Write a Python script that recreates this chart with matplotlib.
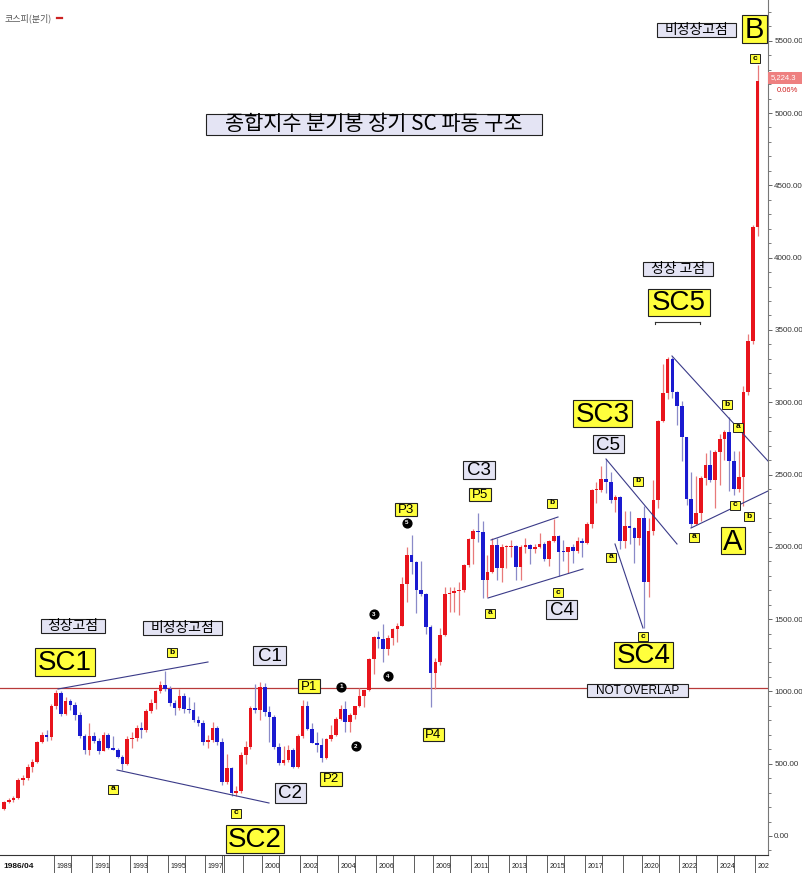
import matplotlib
matplotlib.use('Agg')
import matplotlib.pyplot as plt
from matplotlib.patches import Rectangle
import numpy as np

# ---------------- DATA (KOSPI quarterly, 1986Q2 .. 2026Q1) ----------------
start_year, start_q = 1986, 2
opens = [185, 237, 248, 262, 387, 400, 477, 512, 650, 700, 682, 900, 990, 845, 935, 905, 835, 692, 595, 692,
         660, 590, 700, 612, 598, 545, 500, 670, 680, 745, 730, 866, 920, 1000, 1044, 1020, 920, 885, 968, 875,
         868, 802, 779, 651, 664, 745, 647, 376, 470, 297, 310, 562, 618, 883, 870, 1028, 860, 821, 613, 504,
         523, 595, 479, 693, 900, 742, 646, 627, 536, 670, 697, 810, 880, 785, 835, 896, 966, 1008, 1221, 1379,
         1359, 1295, 1371, 1434, 1452, 1744, 1946, 1897, 1704, 1674, 1448, 1124, 1206, 1390, 1673, 1682, 1692, 1698, 1873, 2051,
         2106, 2100, 1770, 1826, 2014, 1854, 1996, 1997, 2005, 1863, 1997, 2011, 1985, 2002, 2020, 1916, 2041, 2074, 1963, 1961,
         1996, 1970, 2043, 2026, 2160, 2392, 2394, 2467, 2445, 2326, 2343, 2041, 2141, 2130, 2063, 2198, 1754, 2108, 2327, 2873,
         3061, 3296, 3068, 2977, 2757, 2332, 2155, 2236, 2477, 2564, 2465, 2655, 2747, 2797, 2593, 2399, 2481, 3072, 3425, 4214]
highs = [245, 262, 275, 400, 425, 495, 530, 660, 720, 730, 910, 1010, 1000, 960, 950, 930, 860, 705, 780, 720,
         680, 720, 710, 690, 610, 560, 690, 720, 770, 790, 880, 950, 1010, 1070, 1138, 1040, 940, 1016, 990, 960,
         930, 830, 800, 700, 790, 760, 680, 570, 480, 345, 580, 660, 900, 1052, 1066, 1059, 900, 840, 640, 620,
         630, 610, 705, 940, 937, 780, 720, 680, 680, 770, 820, 905, 936, 850, 900, 1022, 1010, 1230, 1380, 1420,
         1464, 1390, 1440, 1470, 1790, 2000, 2085, 1900, 1900, 1680, 1460, 1230, 1440, 1720, 1720, 1720, 1760, 1880, 2060, 2120,
         2231, 2180, 1940, 2060, 2060, 2020, 2010, 2050, 2010, 2010, 2060, 2020, 2020, 2093, 2030, 2050, 2190, 2080, 2050, 2000,
         2020, 2070, 2060, 2170, 2400, 2450, 2560, 2607, 2520, 2360, 2350, 2250, 2250, 2140, 2200, 2280, 2200, 2460, 2880, 3266,
         3316, 3316, 3080, 3010, 2760, 2520, 2490, 2490, 2650, 2670, 2670, 2780, 2810, 2896, 2660, 2660, 3110, 3470, 4226, 5330]
lows = [180, 228, 238, 255, 352, 385, 440, 505, 640, 660, 665, 880, 830, 840, 870, 800, 680, 566, 560, 640,
        570, 585, 600, 595, 540, 459, 490, 610, 660, 680, 720, 850, 880, 990, 1000, 900, 840, 870, 850, 850,
        790, 760, 630, 610, 650, 630, 350, 360, 280, 277, 300, 500, 600, 850, 800, 830, 650, 600, 490, 490,
        510, 468, 470, 680, 730, 640, 580, 512, 530, 660, 690, 800, 720, 720, 810, 890, 890, 1000, 1120, 1300,
        1200, 1250, 1320, 1345, 1450, 1620, 1810, 1540, 1660, 1400, 892, 1020, 1180, 1380, 1550, 1550, 1530, 1690, 1860, 1880,
        2030, 1644, 1650, 1820, 1770, 1760, 1850, 1930, 1770, 1770, 1960, 1880, 1960, 1990, 1900, 1870, 2030, 1800, 1900, 1817,
        1890, 1960, 1930, 2020, 2130, 2300, 2380, 2370, 2300, 2240, 1985, 1990, 2020, 1890, 2010, 1439, 1650, 2080, 2270, 2860,
        3020, 3030, 2840, 2590, 2290, 2134, 2150, 2180, 2430, 2450, 2270, 2430, 2600, 2386, 2360, 2380, 2284, 3050, 3400, 4150]
closes = [237, 248, 262, 387, 400, 477, 512, 650, 700, 682, 900, 990, 845, 935, 905, 835, 692, 595, 692, 660,
          590, 700, 612, 598, 545, 500, 670, 680, 745, 730, 866, 920, 1000, 1044, 1020, 920, 885, 968, 875, 868,
          802, 779, 651, 664, 745, 647, 376, 470, 297, 310, 562, 618, 883, 870, 1028, 860, 821, 613, 504, 523,
          595, 479, 693, 900, 742, 646, 627, 536, 670, 697, 810, 880, 785, 835, 896, 966, 1008, 1221, 1379, 1359,
          1295, 1371, 1434, 1452, 1744, 1946, 1897, 1704, 1674, 1448, 1124, 1206, 1390, 1673, 1682, 1692, 1698, 1873, 2051, 2106,
          2100, 1770, 1826, 2014, 1854, 1996, 1997, 2005, 1863, 1997, 2011, 1985, 2002, 2020, 1916, 2041, 2074, 1963, 1961, 1996,
          1970, 2043, 2026, 2160, 2392, 2394, 2467, 2445, 2326, 2343, 2041, 2141, 2130, 2063, 2198, 1754, 2108, 2327, 2873, 3061,
          3296, 3068, 2977, 2757, 2332, 2155, 2236, 2477, 2564, 2465, 2655, 2747, 2797, 2593, 2399, 2481, 3072, 3425, 4214, 5224.36]

tick_years = [1989, 1991, 1993, 1995, 1997, 2000, 2002, 2004, 2006, 2009, 2011, 2013, 2015, 2017, 2020, 2022, 2024, 2026]
tick_labels = ['1989', '1991', '1993', '1995', '1997', '2000', '2002', '2004', '2006', '2009', '2011', '2013', '2015',
               '2017', '2020', '2022', '2024', '202']
extra_tick_years = [1998, 1999, 2008, 2019]
first_label = '1986/04'
overlap_level = 1025
last_price_text = '5,224.3'
last_change_text = '0.06%'

# ---------------- LAYOUT ----------------
W, H = 803, 873
PX_Q = 4.74          # pixels per quarter
PX_V = 0.1446        # pixels per index point
X0, Y0 = 4, 836      # pixel of index 0 / value 0
AX_R, AX_B = 768, 855


def px(x, y):
    return ((x - X0) / PX_Q, (Y0 - y) / PX_V)


def year_pos(y):
    return (y - start_year) * 4 + (1 - start_q) - 0.5


LAT = ['Liberation Sans', 'DejaVu Sans']
KR = ['Noto Sans CJK KR', 'DejaVu Sans']

fig = plt.figure(figsize=(W / 100, H / 100), dpi=100)
ax = fig.add_axes([0, (H - AX_B) / H, AX_R / W, AX_B / H])
ax.set_xlim(px(0, 0)[0], px(AX_R, 0)[0])
ax.set_ylim(px(0, AX_B)[1], px(0, 0)[1])

# ---------------- CANDLES ----------------
o = np.array(opens, float); h = np.array(highs, float)
l = np.array(lows, float); c = np.array(closes, float)
idx = np.arange(len(o))
up = c >= o
body_col = np.where(up, '#e8141c', '#1a1ad0')
wick_col = np.where(up, '#e87a7a', '#8a8ac8')
ax.vlines(idx, l, h, colors=wick_col, lw=0.9, zorder=2)
bottom = np.minimum(o, c)
height = np.maximum(np.abs(c - o), 8)
ax.bar(idx, height, bottom=bottom, width=0.76, color=body_col, lw=0, zorder=3)

# horizontal overlap line
ax.axhline(overlap_level, color='#b83a3a', lw=0.9, zorder=1)

# trend lines (pixel anchors)
LC = '#3a3a88'
segs = [((58, 689), (208, 662)), ((117, 770), (269, 803)),
        ((491, 540), (558, 517)), ((488, 598), (583, 569)),
        ((606, 459), (677, 544)), ((615, 544), (643, 628)),
        ((672, 356), (768, 461)), ((691, 528), (768, 491))]
for (a, b) in segs:
    p1 = px(*a); p2 = px(*b)
    ax.plot([p1[0], p2[0]], [p1[1], p2[1]], color=LC, lw=0.8, zorder=4)

# SC5 bracket
b1 = px(655, 322); b2 = px(700, 322)
ax.plot([b1[0], b2[0]], [b1[1], b2[1]], color='#333', lw=0.8, zorder=4)
for xx in (655, 700):
    q1 = px(xx, 322); q2 = px(xx, 324)
    ax.plot([q1[0], q2[0]], [q1[1], q2[1]], color='#333', lw=0.8, zorder=4)


# ---------------- LABEL BOXES ----------------
def box(x0, y0, x1, y1, text, fc, fs, family=LAT, weight='normal', lw=0.8, dy=0):
    a, b = px(x0, y1)
    ax.add_patch(Rectangle((a, b), (x1 - x0) / PX_Q, (y1 - y0) / PX_V, fc=fc, ec='#222', lw=lw,
                           zorder=6, clip_on=False))
    cx, cy = px((x0 + x1) / 2, (y0 + y1) / 2 + dy)
    ax.text(cx, cy, text, ha='center', va='center', fontsize=fs, family=family, weight=weight,
            zorder=7, clip_on=False)


YEL = '#ffff3c'
LAV = '#e4e4f4'

box(206, 114, 542, 135, '종합지수 분기봉 장기 SC 파동 구조', LAV, 15, KR)
box(41, 619, 105, 633, '정상고점', LAV, 10, KR)
box(143, 621, 222, 635, '비정상고점', LAV, 10, KR)
box(643, 262, 713, 276, '정상 고점', LAV, 10, KR)
box(657, 23, 736, 37, '비정상고점', LAV, 10, KR)
box(587, 684, 688, 697, 'NOT OVERLAP', LAV, 8.5, LAT)

for (x0, y0, x1, y1, t) in [(35, 648, 95, 676, 'SC1'), (226, 825, 284, 853, 'SC2'), (573, 400, 632, 427, 'SC3'),
                            (614, 642, 673, 668, 'SC4'), (648, 289, 710, 316, 'SC5')]:
    box(x0, y0, x1, y1, t, YEL, 20, LAT, dy=1)
box(742, 15, 767, 43, 'B', YEL, 21, LAT, dy=1)
box(721, 527, 745, 554, 'A', YEL, 21, LAT, dy=1)

for (x0, y0, x1, y1, t) in [(253, 646, 286, 665, 'C1'), (275, 783, 306, 803, 'C2'), (463, 461, 495, 479, 'C3'),
                            (546, 600, 577, 619, 'C4'), (593, 435, 624, 453, 'C5')]:
    box(x0, y0, x1, y1, t, LAV, 13.5, LAT, dy=1)

for (x0, y0, x1, y1, t) in [(298, 679, 320, 693, 'P1'), (320, 772, 342, 786, 'P2'), (395, 503, 417, 516, 'P3'),
                            (423, 728, 444, 741, 'P4'), (469, 488, 491, 501, 'P5')]:
    box(x0, y0, x1, y1, t, YEL, 9.5, LAT, dy=0.5)

small = [(172, 652, 'b'), (113, 789, 'a'), (236, 813, 'c'), (552, 503, 'b'), (490, 613, 'a'), (558, 592, 'c'),
         (638, 481, 'b'), (611, 557, 'a'), (643, 636, 'c'), (694, 537, 'a'), (727, 404, 'b'), (738, 427, 'a'),
         (735, 505, 'c'), (749, 516, 'b'), (755, 58, 'c')]
for (x, y, t) in small:
    box(x - 5, y - 4.5, x + 5, y + 4.5, t, YEL, 6, LAT, weight='bold', lw=0.7)

# numbered black circles
circ = [(341, 687, '1'), (356, 746, '2'), (374, 614, '3'), (388, 676, '4'), (407, 523, '5')]
for (x, y, t) in circ:
    cx, cy = px(x, y)
    ax.scatter([cx], [cy], s=40, c='black', zorder=7)
    ax.text(cx, cy, t, ha='center', va='center', fontsize=4.5, color='white', weight='bold', family=LAT, zorder=8)

# top-left legend
lx, ly = px(5, 18)
ax.text(lx, ly, '코스피(분기)', fontsize=6.5, family=KR, color='#555', va='center', ha='left', zorder=7)
d1 = px(57, 18); d2 = px(62, 18)
ax.plot([d1[0], d2[0]], [d1[1], d2[1]], color='#cc2222', lw=1.6, zorder=7)

# ---------------- AXES ----------------
for s in ['top', 'left']:
    ax.spines[s].set_visible(False)
ax.spines['right'].set_color('#777')
ax.spines['right'].set_linewidth(0.8)
ax.spines['bottom'].set_color('#333')
ax.spines['bottom'].set_linewidth(0.8)

ax.yaxis.tick_right()
ax.set_yticks(np.arange(0, 5501, 500))
ax.set_yticklabels(['%.2f' % v for v in np.arange(0, 5501, 500)])
ax.set_yticks(np.arange(-100, 5800, 100), minor=True)
ax.tick_params(axis='y', which='major', length=3, width=0.7, color='#666', labelsize=5.8, pad=1.5,
               labelcolor='#333')
ax.tick_params(axis='y', which='minor', length=2.5, width=0.6, color='#666')
for lab in ax.get_yticklabels():
    lab.set_family(LAT)

# x axis: long separator ticks + manual labels
xt = [year_pos(y) for y in tick_years]
xt_extra = [year_pos(y) for y in extra_tick_years]
xt_right = [p + 17 / PX_Q for p in xt[:-1]]
ax.set_xticks(xt + xt_extra)
ax.set_xticklabels([])
ax.set_xticks(xt_right, minor=True)
ax.tick_params(axis='x', which='both', length=13, width=0.6, color='#444', direction='out')
trans = ax.get_xaxis_transform()
for p, t in zip(xt, tick_labels):
    ax.text(p + 2.5 / PX_Q, -11 / AX_B, t, transform=trans, fontsize=5, family=LAT, color='#222',
            ha='left', va='center', clip_on=False)
ax.text(px(3, 0)[0], -11 / AX_B, first_label, transform=trans, fontsize=6, family=LAT, weight='bold',
        color='#111', ha='left', va='center', clip_on=False)

# last price tag
fx0, fy0 = AX_R / W, 1 - 84 / H
fig.patches.append(Rectangle((fx0, fy0), (W - AX_R) / W, 12 / H, transform=fig.transFigure,
                             fc='#ee8080', ec='none', zorder=5))
fig.text((AX_R + 3) / W, 1 - 78 / H, last_price_text, fontsize=5.5, family=LAT, color='white',
         va='center', ha='left', zorder=10)
fig.text((AX_R + 9) / W, 1 - 90 / H, last_change_text, fontsize=5.5, family=LAT, color='#d02020',
         va='center', ha='left', zorder=10)

fig.savefig('out.png', dpi=100)
